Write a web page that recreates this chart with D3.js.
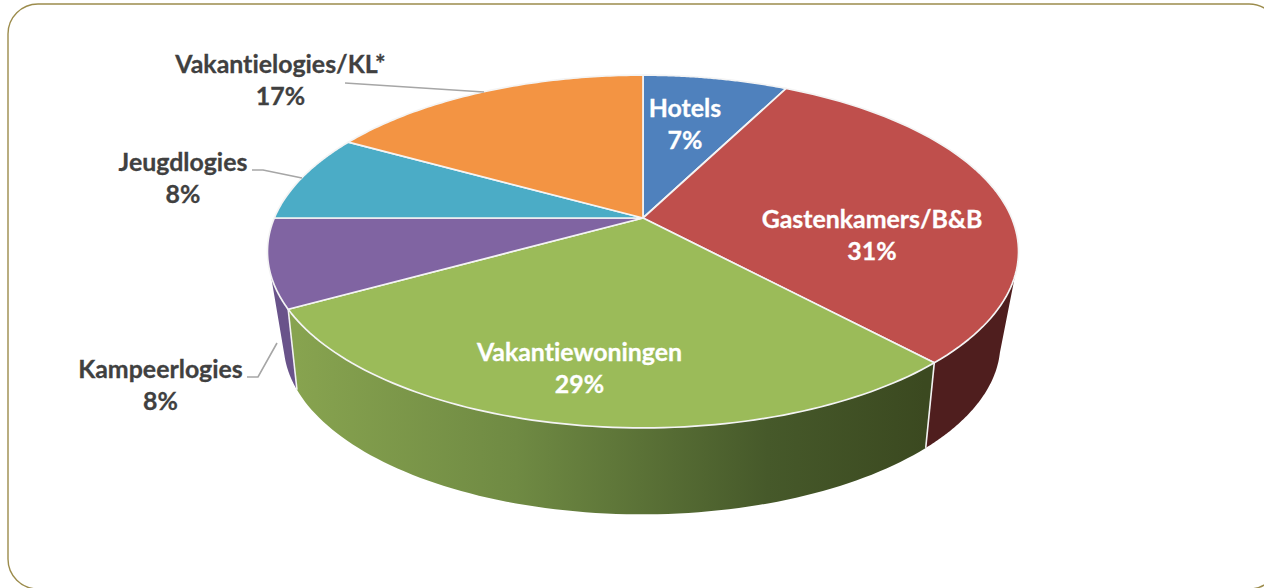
<!DOCTYPE html>
<html><head><meta charset="utf-8">
<script src="https://cdn.jsdelivr.net/npm/d3@7"></script>
<style>html,body{margin:0;padding:0;background:#fff;overflow:hidden}svg{display:block}text{font-family:Lato,"Open Sans",sans-serif;font-weight:700;font-variant-ligatures:none;stroke-width:.3px;paint-order:stroke}</style>
</head><body><svg id="c" width="1264" height="588"></svg>
<script>
const categories = ["Hotels","Gastenkamers/B&B","Vakantiewoningen","Kampeerlogies","Jeugdlogies","Vakantielogies/KL*"];
const values = [7.5,30.6,28.8,8.1,8.1,16.9];
const percentLabels = ["7%","31%","29%","8%","8%","17%"];
const topColors = ["#4f81bd","#bf4f4c","#9bbb59","#8064a2","#4bacc6","#f39443"];
const wallColors = ["#3a5272","#4f1e1e","url(#greenWall)","#69538a","#2e6b7c","#99592a"];
const labelColors = ["#fff","#fff","#fff","#404040","#404040","#404040"];
const labelX = [685,872,579.5,160.5,183,280.5];
const labelY = [109,220,353,370,163,65];
const leaders = [null,null,null,[[247,377],[258,377],[277,343]],[[252,170],[263,170],[302,178]],[[345,83],[484,92]]];

const svg = d3.select("#c");
const defs = svg.append("defs");
const g = defs.append("linearGradient").attr("id","greenWall").attr("gradientUnits","userSpaceOnUse")
  .attr("x1",297).attr("x2",925).attr("y1",0).attr("y2",0);
g.append("stop").attr("offset",0).attr("stop-color","#87a34f");
g.append("stop").attr("offset",.35).attr("stop-color","#6f8a43");
g.append("stop").attr("offset",.75).attr("stop-color","#46592a");
g.append("stop").attr("offset",1).attr("stop-color","#3b4920");

svg.append("rect").attr("x",8).attr("y",4).attr("width",1271).attr("height",585).attr("rx",30)
  .attr("fill","#fff").attr("stroke","#9c8c4c").attr("stroke-width",1.4);

// perspective disc: unit circle projected on to the page
function disc(cx,cy,a,b,k){return t=>{const u=Math.sin(t),v=-Math.cos(t),w=1-k*v;return [cx+a*u/w,cy+b*v/w];};}
const top_ = disc(643,218,368.7,170,.19), bottom0 = disc(642,301,347,160,.25);
const rad = d3.scaleLinear().domain([0,360]).range([0,2*Math.PI]);
const wallFrom = rad(108.4), wallTo = rad(251.6);
// the lower rim's seams lag slightly behind the upper rim's
const lag = d3.scaleLinear().domain([108.4,137.7,240.9,251.6].map(rad)).range([107.4,138.9,240.9,251.6].map(rad));
const bottom_ = t=>bottom0(lag(t));
const pie = d3.pie().sort(null)(values);
const line = d3.line();
const arcPts=(f,a,b)=>d3.range(0,81).map(i=>f(a+(b-a)*i/80));

// walls
pie.forEach((s,i)=>{
  const a=Math.max(s.startAngle,wallFrom), b=Math.min(s.endAngle,wallTo);
  if(a>=b) return;
  svg.append("path").attr("d",line(arcPts(top_,a,b).concat(arcPts(bottom_,a,b).reverse()))+"Z")
    .attr("fill",wallColors[i]);
});
// seams between walls
pie.forEach(s=>{
  if(s.endAngle>wallFrom && s.endAngle<wallTo)
    svg.append("path").attr("d",line([top_(s.endAngle),bottom_(s.endAngle)]))
      .attr("stroke","#f2f2f2").attr("stroke-width",1.6).attr("fill","none");
});
// top
pie.forEach((s,i)=>{
  const pts=[[643,218]].concat(arcPts(top_,s.startAngle,s.endAngle));
  svg.append("path").attr("d",line(pts)+"Z").attr("fill",topColors[i])
    .attr("stroke","#f4f4f4").attr("stroke-width",1.7).attr("stroke-linejoin","round");
});
// leaders
leaders.forEach(l=>{ if(l) svg.append("path").attr("d",line(l)).attr("fill","none").attr("stroke","#a6a6a6").attr("stroke-width",1.6); });
// labels
categories.forEach((c,i)=>{
  const t=svg.append("text").attr("text-anchor","middle").attr("font-size",24.9).attr("fill",labelColors[i]).attr("stroke",labelColors[i]);
  t.append("tspan").attr("x",labelX[i]).attr("y",labelY[i]+8).text(c);
  t.append("tspan").attr("x",labelX[i]).attr("y",labelY[i]+40).text(percentLabels[i]);
});
</script></body></html>
